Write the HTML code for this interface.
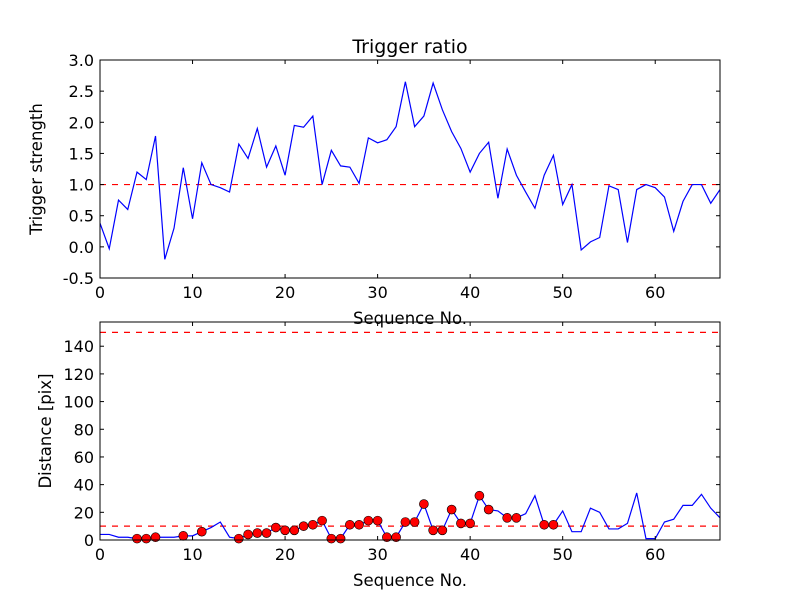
<!DOCTYPE html>
<html><head><meta charset="utf-8"><style>
body{margin:0;background:#fff;}
svg text{font-family:"DejaVu Sans","Liberation Sans",sans-serif;}
</style></head><body>
<svg id="c" width="800" height="600" xmlns="http://www.w3.org/2000/svg">
<rect width="800" height="600" fill="#fff"/>
</svg>
<script>
const topX = [];
for (let i = 0; i <= 67; i++) topX.push(i);
const topValues = [0.38,-0.03,0.75,0.6,1.2,1.08,1.78,-0.2,0.3,1.27,0.45,1.35,1.0,0.95,0.88,1.65,1.42,1.9,1.28,1.62,1.15,1.95,1.92,2.1,1.0,1.55,1.3,1.28,1.02,1.75,1.67,1.72,1.93,2.65,1.93,2.1,2.63,2.2,1.85,1.58,1.2,1.5,1.68,0.78,1.57,1.15,0.88,0.62,1.15,1.47,0.68,1.0,-0.05,0.08,0.15,0.98,0.92,0.07,0.92,1.0,0.95,0.8,0.25,0.73,1.0,1.0,0.7,0.92];
const topThreshold = 1.0;
const topYTicks = [-0.5,0.0,0.5,1.0,1.5,2.0,2.5,3.0];
const xTicks = [0,10,20,30,40,50,60];
const bottomValues = [4,4,2,2,1,1,2,2,2,3,3,6,9,13,2,1,4,5,5,9,7,7,10,11,14,1,1,11,11,14,14,2,2,13,13,26,7,7,22,12,12,32,22,21,16,16,19,32,11,11,21,6,6,23,20,8,8,12,34,1,1,13,15,25,25,33,23,16];
const markerIdx = [4,5,6,9,11,15,16,17,18,19,20,21,22,23,24,25,26,27,28,29,30,31,32,33,34,35,36,37,38,39,40,41,42,44,45,48,49];
const bottomThresholds = [10,150];
const bottomYTicks = [0,20,40,60,80,100,120,140];

const NS = "http://www.w3.org/2000/svg";
const svg = document.getElementById('c');
function mk(tag, attrs, parent, text) {
  const e = document.createElementNS(NS, tag);
  for (const k in attrs) e.setAttribute(k, attrs[k]);
  if (text !== undefined) e.textContent = text;
  (parent || svg).appendChild(e);
  return e;
}
function panel(cfg) {
  const g = mk('g', {});
  
  
  const L = 100, R = 720, T = cfg.top, B = cfg.bottom;
  const sx = v => L + (v - 0) / 67 * (R - L);
  const sy = v => B - (v - cfg.ymin) / (cfg.ymax - cfg.ymin) * (B - T);
  cfg.thresholds.forEach(t => {
    const l = mk('line', {x1: L, x2: R, y1: sy(t), y2: sy(t), stroke: '#ff0000', 'stroke-width': 1.2, 'stroke-dasharray': '6,6'}, g);
    
    
  });
  const pts = cfg.values.map((v, i) => sx(i).toFixed(2) + ',' + sy(v).toFixed(2)).join(' ');
  const pl = mk('polyline', {points: pts, fill: 'none', stroke: '#0000ff', 'stroke-width': 1.2}, g);
  
  
  if (cfg.markers) cfg.markers.forEach(i => {
    const c = mk('circle', {cx: sx(i), cy: sy(cfg.values[i]), r: 4.5, fill: '#ff0000', stroke: '#000', 'stroke-width': 0.6}, g);
    
    
  });
  const fr = mk('rect', {x: L, y: T, width: R - L, height: B - T, fill: 'none', stroke: '#000', 'stroke-width': 1}, g);
  
  
  xTicks.forEach(t => {
    const x = sx(t);
    mk('line', {x1: x, x2: x, y1: B, y2: B - 4, stroke: '#000'}, g);
    mk('line', {x1: x, x2: x, y1: T, y2: T + 4, stroke: '#000'}, g);
    const tx = mk('text', {x: x, y: B + 20, 'font-size': 16, 'text-anchor': 'middle'}, g, String(t));
    
    
  });
  cfg.yticks.forEach(t => {
    const y = sy(t);
    mk('line', {x1: L, x2: L + 4, y1: y, y2: y, stroke: '#000'}, g);
    mk('line', {x1: R, x2: R - 4, y1: y, y2: y, stroke: '#000'}, g);
    const tx = mk('text', {x: L - 6, y: y + 6, 'font-size': 16, 'text-anchor': 'end'}, g, cfg.fmt(t));
    
    
  });
  const xl = mk('text', {x: 410, y: B + 46, 'font-size': 16.5, 'text-anchor': 'middle'}, g, 'Sequence No.');
  
  
  const yl = mk('text', {x: 0, y: 0, 'font-size': 16.5, 'text-anchor': 'middle', transform: 'translate(' + cfg.ylabelX + ',' + ((T + B) / 2) + ') rotate(-90)'}, g, cfg.ylabel);
  
  
}
panel({name: 'trigger-strength-panel', top: 60, bottom: 278, ymin: -0.5, ymax: 3.0, values: topValues, thresholds: [topThreshold], yticks: topYTicks, fmt: t => t.toFixed(1), ylabel: 'Trigger strength', ylabelX: 42});
panel({name: 'distance-panel', top: 322, bottom: 540, ymin: 0, ymax: 157.5, values: bottomValues, markers: markerIdx, thresholds: bottomThresholds, yticks: bottomYTicks, fmt: t => String(t), ylabel: 'Distance [pix]', ylabelX: 51});
const title = mk('text', {x: 410, y: 53, 'font-size': 19, 'text-anchor': 'middle'}, svg, 'Trigger ratio');


</script>
</body></html>
